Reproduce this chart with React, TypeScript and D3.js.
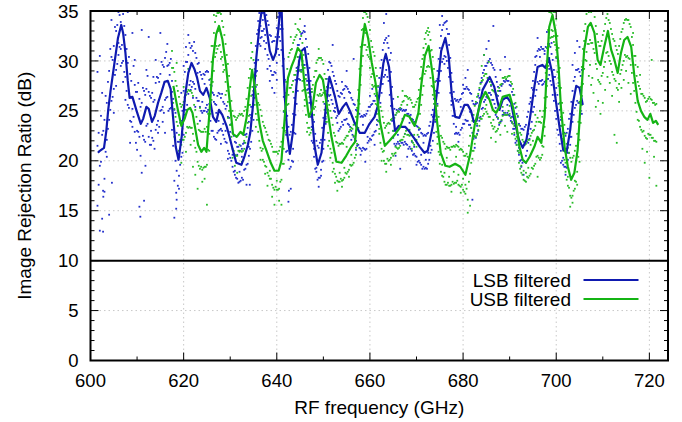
import React from "react";
import * as d3 from "d3";

// ---------- DATA ----------
const xTicksMajor = [600, 620, 640, 660, 680, 700, 720];
const xTicksMinor = [610, 630, 650, 670, 690, 710];
const yTicksMajor = [0, 5, 10, 15, 20, 25, 30, 35];
const xTickLabels = ["600", "620", "640", "660", "680", "700", "720"];
const yTickLabels = ["0", "5", "10", "15", "20", "25", "30", "35"];
const seriesNames = ["LSB filtered", "USB filtered"];
const thresholdDb = 10;

// smoothed (filtered) curves
const lsbFreq = [601.6,602.0,602.9,603.4,603.8,604.3,605.0,605.9,606.6,607.0,607.5,608.0,608.4,609.0,609.9,610.8,611.3,612.0,612.5,613.2,613.8,614.5,615.2,615.9,616.6,617.2,617.7,618.3,618.9,619.6,620.3,621.0,621.7,622.3,622.9,623.5,624.2,624.9,625.6,626.3,627.0,627.6,628.3,629.2,629.9,630.6,631.3,632.4,633.1,633.8,634.3,634.9,635.6,636.3,637.0,637.8,638.5,639.2,639.8,640.3,640.8,641.0,641.3,641.7,642.3,642.8,643.5,644.2,644.8,645.3,646.0,646.7,647.4,648.1,648.8,649.6,650.3,651.0,651.3,651.8,652.5,653.3,654.2,654.9,655.8,656.7,657.8,658.9,659.9,661.0,661.7,662.4,662.9,663.4,664.1,664.8,665.4,666.2,666.9,667.6,668.5,669.6,670.7,671.7,672.4,673.0,673.5,674.6,675.3,676.2,676.9,677.6,678.3,679.2,680.3,681.0,681.7,682.3,682.9,683.4,684.2,685.7,686.7,687.8,688.5,689.4,690.3,691.0,692.0,692.8,693.6,694.4,695.3,696.0,697.0,697.7,698.4,699.1,699.8,700.7,701.5,702.2,703.0,703.6,704.3,705.0,705.7];
const lsbVal = [20.8,21.0,21.3,23.0,25.1,27.0,29.3,32.3,33.6,32.8,30.8,28.0,26.3,26.4,25.0,23.7,24.2,25.4,25.2,23.9,24.5,25.8,26.8,27.9,28.0,27.2,24.5,21.4,20.1,22.5,26.5,28.8,29.8,29.2,28.3,27.0,26.6,27.3,26.3,24.4,23.9,25.1,24.6,23.5,22.3,21.0,19.8,19.6,20.5,21.6,22.8,25.6,30.3,33.6,35.8,33.3,31.0,30.1,30.8,33.0,35.5,35.8,31.0,26.5,22.5,20.7,23.0,27.5,30.0,31.0,31.3,29.0,25.5,21.5,19.6,20.8,24.3,27.5,28.4,27.6,26.4,24.7,25.4,25.8,24.9,23.8,22.8,22.8,23.7,24.4,25.5,28.0,29.8,30.7,29.4,25.3,23.0,23.5,23.4,23.4,22.9,22.2,21.4,20.8,21.0,22.3,23.5,27.7,31.0,32.3,30.5,26.5,24.4,24.3,25.6,25.6,25.0,23.9,24.0,25.3,27.1,28.4,27.4,25.1,26.1,26.4,25.8,24.1,22.1,21.3,22.1,24.4,27.4,29.4,29.6,29.3,30.3,28.9,26.4,23.4,21.1,20.8,23.1,25.8,27.5,27.3,25.6];

const usbFreq = [617.8,618.3,618.8,619.5,620.2,620.8,621.4,621.9,622.5,623.1,623.8,624.4,624.9,625.6,626.3,627.0,627.6,628.3,629.1,629.9,630.6,631.4,632.2,632.8,633.5,634.2,634.7,635.3,636.3,637.0,637.8,638.7,639.5,640.4,641.0,641.7,642.4,643.2,643.8,644.5,645.3,646.0,646.9,647.6,648.4,649.2,649.9,650.6,651.7,652.8,653.9,654.9,656.0,656.8,657.5,658.2,658.9,659.6,660.4,661.2,662.2,663.2,664.2,665.3,666.4,667.5,668.5,669.6,670.4,671.0,671.8,672.6,673.5,674.4,675.2,676.2,677.1,678.3,679.4,680.5,681.5,682.5,683.9,684.8,685.7,686.4,687.1,687.8,688.5,689.2,690.0,690.7,691.4,692.1,692.8,693.5,694.3,695.3,696.0,696.8,697.5,698.0,698.5,699.2,699.9,700.5,701.0,701.8,702.5,703.2,703.9,704.6,705.3,706.0,706.8,707.4,708.2,708.9,709.5,710.3,711.1,711.8,712.5,713.2,713.9,714.6,715.3,716.1,716.8,717.5,718.2,718.9,719.6,720.2,720.8,721.4,721.9];
const usbVal = [27.5,26.2,25.0,23.5,24.2,25.1,25.3,24.8,23.2,21.6,20.9,21.3,20.9,25.2,30.2,32.7,33.5,32.2,29.5,25.9,22.7,22.4,22.9,22.6,24.3,27.3,29.1,27.3,23.7,22.0,21.0,19.8,19.0,19.0,20.0,24.3,28.3,29.5,30.2,31.3,30.8,27.4,24.4,25.1,27.8,28.6,28.1,26.0,22.5,19.9,19.8,20.5,21.4,21.9,25.2,31.2,33.7,32.3,29.8,27.8,23.8,21.5,22.0,22.6,23.3,24.6,24.4,23.5,24.8,27.5,30.5,31.5,28.5,24.0,20.8,19.5,19.4,19.7,19.4,18.6,20.6,23.6,26.1,26.9,26.1,25.1,24.8,25.4,26.4,26.5,26.6,25.4,23.8,21.4,20.1,19.8,20.4,21.4,22.4,21.8,24.4,29.4,33.4,34.6,32.8,29.4,25.4,21.4,19.4,18.1,18.8,21.1,26.1,31.1,33.4,33.8,32.8,30.1,29.6,31.4,33.0,31.1,30.1,28.8,30.8,32.1,32.4,31.4,28.4,26.0,25.0,24.4,24.1,24.7,23.8,24.0,23.6];

// raw measurements: [frequency, values...]
const lsbRaw = [
[601.5,21.5,15.5,28.9],[602.0,13.0,19.5,30.5],[602.5,14.2,22.6,26.8],[603.0,18.2,24.1,16.9],[603.5,20.4,25.8,22.1],
[604.0,24.1,29.0,14.6],[604.5,26.0,30.4,34.1],[605.0,31.5,27.2,24.8],[605.5,33.0,29.1,27.5],[606.0,34.9,30.6,31.8],
[606.5,31.2,29.5,33.9],[607.0,34.7,30.0,27.9],[607.5,32.6,28.4,26.1],[608.0,34.9,25.6,29.8],[608.5,24.0,28.7,21.8],
[609.0,32.8,25.2,23.4],[609.5,27.6,22.9,30.1],[610.0,26.9,23.0,21.1],[610.5,15.4,26.2,22.4],[611.0,18.8,25.8,33.1],
[611.5,22.1,27.0,16.0],[612.0,29.1,23.5,27.2],[612.5,32.4,22.4,26.9],[613.0,21.6,26.3,23.0],[613.5,25.9,22.0,28.4],
[614.0,23.1,27.8,30.1],[614.5,24.0,28.3,22.8],[615.0,28.7,25.0,32.8],[615.5,29.6,25.4,23.9],[616.0,30.3,26.1,22.8],
[616.5,29.5,26.4,31.7],[617.0,29.8,25.2,28.6],[617.5,28.0,23.1,26.9],[618.0,18.0,25.1,14.3],[618.5,16.1,19.0,22.8],
[619.0,18.5,21.9,17.2],[619.5,20.4,24.0,26.8],[620.0,27.0,22.6,29.5],[620.5,29.9,25.1,31.4],[621.0,30.6,26.7,32.6],
[621.5,31.3,28.0,27.1],[622.0,27.9,31.0,26.3],[622.5,30.8,27.2,25.4],[623.0,26.0,29.7,28.8],[623.5,28.9,25.4,24.0],
[624.0,24.8,28.2,25.9],[624.5,28.6,25.0,27.7],[625.0,25.6,29.0,24.9],[625.5,24.5,28.1,25.7],[626.0,23.0,26.9,27.5],
[626.5,22.4,25.9,26.6],[627.0,25.6,22.1,24.8],[627.5,23.0,26.8,24.0],[628.0,26.3,23.2,21.7],[628.5,22.6,25.9,23.7],
[629.0,25.2,21.9,23.0],[629.5,21.0,24.4,20.2],[630.0,20.3,23.6,22.9],[630.5,19.4,22.8,20.6],[631.0,18.6,21.9,19.0],
[631.5,18.2,21.4,20.6],[632.0,18.9,21.0,17.9],[632.5,18.3,21.2,20.4],[633.0,19.1,21.8,22.6],[633.5,19.6,22.7,17.6],
[634.0,20.5,23.9,21.4],[634.5,21.9,25.4,24.3],[635.0,24.1,28.4,27.0],[635.5,27.4,31.5,28.9],[636.0,30.1,34.0,33.1],
[636.5,32.3,33.5,31.5],[637.0,34.1,33.0,34.8],[637.5,32.6,34.5,31.2],[638.0,30.6,34.0,29.2],[638.5,29.5,32.6,28.0],
[639.0,28.6,31.9,27.3],[639.5,28.9,32.0,26.8],[640.0,29.8,33.3,28.1],[640.5,32.4,34.8,30.6],[641.0,33.6,31.1,34.4],
[641.5,30.2,26.4,24.9],[642.0,22.6,26.8,20.9],[642.5,20.1,23.4,15.9],[643.0,19.4,22.9,17.2],[643.5,21.2,24.7,19.9],
[644.0,24.6,28.1,22.7],[644.5,27.0,30.4,31.6],[645.0,29.0,32.2,28.1],[645.5,29.6,32.8,30.0],[646.0,29.6,32.9,33.5],
[646.5,28.0,31.4,27.1],[647.0,25.8,29.3,24.6],[647.5,23.4,26.9,22.0],[648.0,20.4,23.9,21.2],[648.5,18.9,22.0,19.3],
[649.0,18.3,21.3,17.4],[649.5,19.1,22.1,18.5],[650.0,21.2,24.3,20.0],[650.5,23.7,27.0,24.2],[651.0,26.0,29.1,25.1],
[651.5,26.6,29.8,27.3],[652.0,25.7,28.9,31.6],[652.5,24.9,28.0,25.3],[653.0,23.8,27.0,24.5],[653.5,23.2,26.4,21.7],
[654.0,23.9,26.7,27.9],[654.5,24.1,27.2,26.3],[655.0,24.2,27.4,29.0],[655.5,23.6,26.9,24.8],[656.0,23.0,26.3,22.1],
[656.5,22.4,25.7,30.2],[657.0,22.0,25.1,21.1],[657.5,21.6,24.8,26.1],[658.0,21.2,24.4,20.6],[658.5,21.3,24.4,23.6],
[659.0,21.1,24.5,19.9],[659.5,21.8,25.0,22.4],[660.0,22.2,25.4,26.5],[660.5,22.5,25.7,27.2],[661.0,22.9,26.0,21.6],
[661.5,23.6,26.8,24.1],[662.0,25.0,28.3,23.9],[662.5,26.8,30.1,27.7],[663.0,28.4,31.8,33.8],[663.5,29.1,32.3,34.7],
[664.0,28.0,31.3,32.5],[664.5,25.5,28.9,30.8],[665.0,23.0,26.2,22.3],[665.5,21.5,24.6,20.5],[666.0,21.9,25.0,22.6],
[666.5,22.0,25.1,19.2],[667.0,21.8,25.0,24.2],[667.5,21.9,25.0,22.7],[668.0,21.6,24.7,20.4],[668.5,21.4,24.5,23.8],
[669.0,21.0,24.2,21.9],[669.5,20.7,23.9,21.4],[670.0,20.4,23.5,19.6],[670.5,20.0,23.1,22.4],[671.0,19.6,22.8,20.6],
[671.5,19.4,22.5,21.8],[672.0,19.3,22.5,20.1],[672.5,19.7,22.8,20.8],[673.0,20.8,23.9,21.5],[673.5,22.0,25.1,24.4],
[674.0,23.9,27.0,26.3],[674.5,25.7,29.0,28.2],[675.0,28.0,31.3,33.6],[675.5,29.9,33.1,34.5],[676.0,30.5,33.8,29.7],
[676.5,30.0,33.2,34.0],[677.0,28.4,31.6,32.7],[677.5,25.6,28.8,26.0],[678.0,23.7,26.9,24.5],[678.5,22.8,26.0,23.4],
[679.0,22.8,25.9,21.9],[679.5,23.1,26.2,25.4],[680.0,23.7,26.8,27.6],[680.5,24.1,27.2,28.3],[681.0,24.0,27.2,29.1],
[681.5,23.6,26.8,24.9],[682.0,22.8,26.0,16.1],[682.5,22.4,25.6,21.3],[683.0,22.7,25.8,23.5],[683.5,24.0,27.1,26.3],
[684.0,25.2,28.3,27.9],[684.5,25.9,29.1,30.6],[685.0,26.4,29.5,31.2],[685.5,26.8,30.0,32.0],[686.0,26.6,29.8,27.5],
[686.5,26.1,29.3,33.5],[687.0,25.3,28.4,24.6],[687.5,24.2,27.4,26.5],[688.0,23.9,27.0,29.1],[688.5,24.6,27.7,25.0],
[689.0,24.8,27.9,30.4],[689.5,24.8,28.0,25.6],[690.0,24.5,27.6,29.2],[690.5,23.8,26.9,24.4],[691.0,22.6,25.7,23.2],
[691.5,21.6,24.7,22.0],[692.0,20.6,23.7,21.3],[692.5,20.1,23.2,19.4],[693.0,20.0,23.1,18.6],[693.5,20.5,23.6,19.8],
[694.0,21.8,24.9,22.7],[694.5,23.2,26.3,25.9],[695.0,24.9,28.0,27.1],[695.5,26.5,29.6,30.4],[696.0,27.9,31.0,32.3],
[696.5,28.0,31.1,30.4],[697.0,28.1,31.2,27.6],[697.5,27.9,31.0,30.7],[698.0,28.2,31.3,32.9],[698.5,28.6,31.7,29.2],
[699.0,27.6,30.7,31.8],[699.5,26.0,29.1,28.4],[700.0,24.2,27.3,30.3],[700.5,22.6,25.7,27.8],[701.0,21.0,24.1,19.8],
[701.5,19.6,22.7,20.3],[702.0,19.4,22.5,18.6],[702.5,20.1,23.2,20.8],[703.0,21.6,24.7,22.4],[703.5,23.9,27.0,29.6],
[704.0,25.3,28.4,30.8],[704.5,26.0,29.1,32.0],[705.0,25.8,28.9,31.4],[705.5,24.7,27.8,29.1],
[602.7,12.9,17.0],[610.7,14.4],[618.4,15.2,16.8],[604.6,17.8],[611.8,19.5],[634.2,17.6],[642.6,17.0]
];

const lsbRaw2 = [
[601.75,22.8,17.6],[602.25,19.9,24.5],[602.75,23.0,16.4],[603.25,20.9,26.5],[603.75,23.2,27.9],[604.25,25.1,31.2],
[604.75,30.1,26.4],[605.25,28.6,33.4],[605.75,33.6,29.7],[606.25,31.4,34.6],[606.75,31.6,29.8],[607.25,33.5,28.9],
[607.75,31.2,27.0],[608.25,25.3,30.4],[608.75,28.0,23.9],[609.25,24.4,29.5],[609.75,26.9,21.8],[610.25,22.9,27.8],
[610.75,25.4,20.5],[611.25,22.5,27.3],[611.75,26.6,21.9],[612.25,23.7,28.5],[612.75,26.5,21.6],[613.25,22.3,26.8],
[613.75,26.1,21.2],[614.25,23.6,28.4],[614.75,27.9,23.4],[615.25,25.1,29.9],[615.75,29.4,24.8],[616.25,26.3,30.9],
[616.75,29.6,25.0],[617.25,25.3,30.2],[617.75,26.2,21.5],[618.25,20.0,24.8],[618.75,21.9,17.5],[619.25,19.6,23.8],
[619.75,25.0,20.8],[620.25,24.6,28.9],[620.75,29.9,25.6],[621.25,27.6,31.8],[621.75,31.5,27.4],[622.25,27.7,31.9],
[622.75,30.3,26.3],[623.25,26.0,29.8],[623.75,28.6,25.0],[624.25,25.0,28.7],[624.75,28.9,25.3],[625.25,25.1,28.9],
[625.75,27.6,24.0],[626.25,23.0,26.8],[626.75,25.7,22.2],[627.25,22.8,26.5],[627.75,26.7,23.1],[628.25,23.0,26.7],
[628.75,25.7,22.2],[629.25,21.8,25.5],[629.75,24.3,20.7],[630.25,20.0,23.7],[630.75,22.5,18.9],[631.25,18.3,21.8],
[631.75,21.4,17.8],[632.25,18.0,21.5],[632.75,21.7,18.1],[633.25,19.2,22.6],[633.75,23.3,19.7],[634.25,21.2,24.6],
[634.75,26.6,23.0],[635.25,26.3,29.8],[635.75,32.7,29.0],[636.25,31.7,34.8],[636.75,33.0,32.4],[637.25,33.2,32.0],
[637.75,31.8,34.6],[638.25,30.2,33.6],[638.75,32.5,29.0],[639.25,28.6,32.0],[639.75,32.4,28.8],[640.25,31.2,34.4],
[640.75,33.2,32.0],[641.25,33.2,29.5],[641.75,24.6,28.1],[642.25,24.5,21.0],[642.75,19.2,22.6],[643.25,23.6,20.0],
[643.75,22.8,26.3],[644.25,29.3,25.7],[644.75,28.2,31.6],[645.25,32.7,29.1],[645.75,29.6,33.0],[646.25,32.2,28.6],
[646.75,27.2,30.7],[647.25,28.0,24.4],[647.75,21.8,25.3],[648.25,22.7,19.2],[648.75,18.1,21.5],[649.25,21.8,18.3],
[649.75,19.9,23.3],[650.25,25.7,22.1],[650.75,24.8,28.2],[651.25,29.9,26.5],[651.75,26.1,29.5],[652.25,28.5,25.0],
[652.75,24.3,27.7],[653.25,26.5,23.0],[653.75,23.4,26.8],[654.25,27.1,23.6],[654.75,24.1,27.5],[655.25,27.2,23.7],
[655.75,23.4,26.8],[656.25,26.1,22.6],[656.75,22.2,25.6],[657.25,25.0,21.5],[657.75,21.3,24.7],[658.25,24.5,21.0],
[658.75,21.2,24.6],[659.25,24.7,21.2],[659.75,22.0,25.4],[660.25,25.6,22.1],[660.75,22.6,26.0],[661.25,26.5,23.0],
[661.75,24.0,27.4],[662.25,29.3,25.8],[662.75,27.7,31.1],[663.25,32.1,28.6],[663.75,28.4,31.8],[664.25,30.1,26.6],
[664.75,24.0,27.4],[665.25,25.2,21.7],[665.75,21.7,25.1],[666.25,25.2,21.7],[666.75,21.8,25.2],[667.25,25.1,21.6],
[667.75,21.7,25.1],[668.25,24.7,21.2],[668.75,21.2,24.6],[669.25,24.1,20.6],[669.75,20.5,23.9],[670.25,23.4,19.9],
[670.75,19.8,23.2],[671.25,22.7,19.2],[671.75,19.2,22.6],[672.25,22.7,19.2],[672.75,20.1,23.5],[673.25,24.6,21.1],
[673.75,22.8,26.2],[674.25,28.0,24.5],[674.75,26.8,30.2],[675.25,32.5,29.0],[675.75,30.2,33.6],[676.25,33.9,30.4],
[676.75,29.3,32.7],[677.25,30.3,26.8],[677.75,24.5,27.9],[678.25,26.2,22.7],[678.75,22.7,26.1],[679.25,26.1,22.6],
[679.75,23.3,26.7],[680.25,27.2,23.7],[680.75,24.0,27.4],[681.25,27.1,23.6],[681.75,23.3,26.7],[682.25,25.7,22.2],
[682.75,22.3,25.7],[683.25,26.5,23.0],[683.75,24.4,27.8],[684.25,28.8,25.3],[684.75,26.1,29.5],[685.25,29.8,26.3],
[685.75,26.8,30.2],[686.25,29.6,26.1],[686.75,25.7,29.1],[687.25,27.9,24.4],[687.75,23.6,27.0],[688.25,27.5,24.0],
[688.75,24.6,28.0],[689.25,28.1,24.6],[689.75,24.6,28.0],[690.25,27.5,24.0],[690.75,23.2,26.6],[691.25,25.3,21.8],
[691.75,21.0,24.4],[692.25,23.5,20.0],[692.75,19.8,23.2],[693.25,23.4,19.9],[693.75,21.0,24.4],[694.25,25.7,22.2],
[694.75,23.9,27.3],[695.25,28.9,25.4],[695.75,27.1,30.5],[696.25,31.2,27.7],[696.75,28.0,31.4],[697.25,31.2,27.7],
[697.75,28.0,31.4],[698.25,31.7,28.2],[698.75,28.0,31.4],[699.25,30.1,26.6],[699.75,25.0,28.4],[700.25,26.6,23.1],
[700.75,21.7,25.1],[701.25,23.5,20.0],[701.75,19.4,22.8],[702.25,22.8,19.3],[702.75,20.8,24.2],[703.25,25.9,22.4],
[703.75,24.6,28.0],[704.25,29.1,25.6],[704.75,25.8,29.2],[705.25,28.5,25.0]
];

const usbRaw = [
[617.5,29.3,25.8,31.0],[618.0,25.2,28.9,22.4],[618.5,23.9,27.5,29.8],[619.0,22.6,26.4,21.0],[619.5,21.6,25.4,19.8],
[620.0,22.1,25.9,27.4],[620.5,22.8,26.6,20.9],[621.0,23.3,27.1,29.2],[621.5,23.3,27.0,21.6],[622.0,22.7,26.5,19.4],
[622.5,21.3,25.1,18.6],[623.0,19.9,23.7,17.2],[623.5,19.2,23.0,25.3],[624.0,19.1,22.9,17.9],[624.5,19.4,23.2,18.2],
[625.0,19.6,23.4,15.6],[625.5,22.7,26.5,21.0],[626.0,26.1,29.9,31.5],[626.5,29.0,32.8,34.6],[627.0,30.8,34.5,31.5],
[627.5,31.5,34.8,33.0],[628.0,30.9,34.7,30.2],[628.5,29.6,33.4,28.9],[629.0,27.9,31.7,26.6],[629.5,25.9,29.7,24.3],
[630.0,23.6,27.4,22.1],[630.5,21.2,25.0,20.3],[631.0,20.6,24.4,19.5],[631.5,20.5,24.3,18.8],[632.0,20.9,24.7,21.6],
[632.5,20.9,24.7,19.9],[633.0,21.2,25.0,22.0],[633.5,22.4,26.2,25.1],[634.0,24.5,28.3,25.6],[634.5,26.5,30.3,31.8],
[635.0,26.3,30.1,27.0],[635.5,24.7,28.5,23.4],[636.0,22.9,26.7,25.8],[636.5,21.3,25.1,20.1],[637.0,20.1,23.9,21.2],
[637.5,19.5,23.3,18.7],[638.0,18.8,22.6,17.5],[638.5,18.2,22.0,19.0],[639.0,17.6,21.4,16.4],[639.5,17.1,20.9,15.6],
[640.0,17.1,20.9,18.0],[640.5,17.2,21.0,16.0],[641.0,18.1,21.9,15.6],[641.5,21.2,25.0,19.7],[642.0,24.1,27.9,22.8],
[642.5,26.6,30.4,25.7],[643.0,27.3,31.1,32.4],[643.5,28.0,31.8,26.9],[644.0,28.6,32.4,33.7],[644.5,29.4,33.2,30.4],
[645.0,29.1,32.9,34.2],[645.5,28.0,31.8,27.0],[646.0,25.5,29.3,26.1],[646.5,23.8,27.6,22.9],[647.0,22.6,26.4,23.3],
[647.5,23.1,26.9,27.2],[648.0,24.6,28.4,25.2],[648.5,26.0,29.8,29.0],[649.0,26.5,30.3,31.2],[649.5,26.5,30.3,27.1],
[650.0,25.9,29.7,26.8],[650.5,24.4,28.2,23.9],[651.0,22.8,26.6,21.5],[651.5,21.2,25.0,20.3],[652.0,19.8,23.6,18.9],
[652.5,18.7,22.5,17.8],[653.0,18.0,21.8,17.0],[653.5,17.9,21.7,18.8],[654.0,18.0,21.8,17.4],[654.5,18.3,22.1,19.3],
[655.0,18.7,22.5,21.4],[655.5,19.1,22.9,18.4],[656.0,19.5,23.3,20.6],[656.5,19.8,23.6,22.5],[657.0,20.6,24.4,21.3],
[657.5,23.3,27.1,26.0],[658.0,27.6,31.4,28.6],[658.5,30.5,34.3,33.2],[659.0,31.6,34.9,32.8],[659.5,30.6,34.4,31.4],
[660.0,29.3,33.1,30.2],[660.5,27.6,31.4,28.7],[661.0,26.7,30.5,27.5],[661.5,24.7,28.5,25.6],[662.0,22.7,26.5,23.2],
[662.5,21.2,25.0,20.0],[663.0,20.0,23.8,21.0],[663.5,19.7,23.5,18.9],[664.0,20.0,23.8,22.8],[664.5,20.3,24.1,19.6],
[665.0,20.5,24.3,23.0],[665.5,20.8,24.6,21.4],[666.0,21.2,25.0,26.4],[666.5,21.5,25.3,22.0],[667.0,22.1,25.9,27.0],
[667.5,22.7,26.5,23.4],[668.0,22.6,26.4,25.6],[668.5,22.5,26.3,23.1],[669.0,22.0,25.8,21.2],[669.5,21.6,25.4,22.6],
[670.0,22.1,25.9,21.4],[670.5,23.3,27.1,26.3],[671.0,25.6,29.4,28.3],[671.5,27.5,31.3,30.6],[672.0,29.0,32.8,31.7],
[672.5,29.5,33.3,32.6],[673.0,28.3,32.1,31.0],[673.5,26.6,30.4,27.4],[674.0,24.1,27.9,25.1],[674.5,21.7,25.5,22.4],
[675.0,19.7,23.5,20.6],[675.5,18.5,22.3,19.6],[676.0,17.9,21.7,18.8],[676.5,17.6,21.4,20.3],[677.0,17.5,21.3,18.4],
[677.5,17.6,21.4,16.9],[678.0,17.7,21.5,18.9],[678.5,17.8,21.6,20.4],[679.0,17.6,21.4,18.6],[679.5,17.4,21.2,16.8],
[680.0,17.1,20.9,18.2],[680.5,16.7,20.5,17.6],[681.0,14.8,16.1,20.4],[681.5,18.7,22.5,15.5],[682.0,20.2,24.0,21.0],
[682.5,21.7,25.5,22.5],[683.0,22.6,26.4,23.7],[683.5,23.5,27.3,24.3],[684.0,24.2,28.0,29.5],[684.5,24.7,28.5,30.6],
[685.0,24.9,28.7,25.6],[685.5,24.4,28.2,29.9],[686.0,23.8,27.6,22.3],[686.5,23.2,27.0,24.1],[687.0,22.9,26.7,21.9],
[687.5,23.2,27.0,24.3],[688.0,23.8,27.6,22.6],[688.5,24.5,28.3,25.4],[689.0,24.6,28.4,23.5],[689.5,24.6,28.4,22.9],
[690.0,24.7,28.5,25.5],[690.5,23.9,27.7,22.7],[691.0,22.8,26.6,23.5],[691.5,21.6,25.4,22.4],[692.0,19.8,23.6,20.8],
[692.5,18.8,22.6,19.5],[693.0,18.1,21.9,19.0],[693.5,17.9,21.7,18.8],[694.0,18.3,22.1,19.3],[694.5,18.7,22.5,21.6],
[695.0,19.2,23.0,22.0],[695.5,19.7,23.5,24.6],[696.0,20.5,24.3,18.4],[696.5,20.1,23.9,25.0],[697.0,20.6,24.4,21.5],
[697.5,22.5,26.3,23.4],[698.0,27.5,31.3,26.4],[698.5,31.5,34.9,30.3],[699.0,32.4,34.8,33.1],[699.5,31.9,34.9,32.5],
[700.0,30.4,34.2,31.1],[700.5,27.5,31.3,28.3],[701.0,23.5,27.3,24.4],[701.5,21.0,24.8,22.0],[702.0,18.9,22.7,19.8],
[702.5,17.5,21.3,18.4],[703.0,16.5,20.3,15.4],[703.5,16.5,20.3,15.8],[704.0,17.2,21.0,18.0],[704.5,18.9,22.7,17.6],
[705.0,22.1,25.9,19.9],[705.5,25.6,29.4,26.5],[706.0,29.2,33.0,32.0],[706.5,30.9,34.7,30.0],[707.0,31.7,34.9,28.5],
[707.5,31.8,34.9,27.6],[708.0,31.2,35.0,26.8],[708.5,29.7,33.5,25.4],[709.0,28.1,31.9,26.0],[709.5,27.7,31.5,24.7],
[710.0,28.8,32.6,25.8],[710.5,29.9,33.7,27.1],[711.0,30.9,34.7,28.4],[711.5,30.0,33.8,27.8],[712.0,28.9,32.7,26.5],
[712.5,28.2,32.0,22.6],[713.0,27.3,31.1,21.8],[713.5,27.7,31.5,25.9],[714.0,29.1,32.9,27.3],[714.5,30.0,33.8,28.1],
[715.0,30.4,34.2,29.0],[715.5,30.3,34.1,27.8],[716.0,29.6,33.4,26.7],[716.5,27.8,31.6,32.8],[717.0,25.8,29.6,30.5],
[717.5,24.1,27.9,29.4],[718.0,23.4,27.2,28.6],[718.5,22.9,26.7,21.2],[719.0,22.5,26.3,19.8],[719.5,22.2,26.0,20.9],
[720.0,22.6,26.4,18.3],[720.5,22.3,26.1,30.1],[721.0,22.0,25.8,20.4],[721.5,21.9,25.7,17.5]
];

const usbRaw2 = [
[617.75,25.8,29.3],[618.25,28.0,24.4],[618.75,23.5,27.0],[619.25,25.7,22.1],[619.75,22.1,25.6],[620.25,26.0,22.4],
[620.75,23.4,26.9],[621.25,27.0,23.4],[621.75,23.3,26.8],[622.25,25.6,22.0],[622.75,20.9,24.4],[623.25,23.1,19.5],
[623.75,19.4,22.9],[624.25,22.9,19.3],[624.75,19.4,22.9],[625.25,24.7,21.1],[625.75,24.7,28.2],[626.25,31.5,27.9],
[626.75,30.4,33.9],[627.25,34.8,31.2],[627.75,31.6,34.9],[628.25,34.0,30.4],[628.75,29.1,32.6],[629.25,30.6,27.0],
[629.75,25.0,28.5],[630.25,26.0,22.4],[630.75,21.0,24.5],[631.25,24.1,20.5],[631.75,21.0,24.5],[632.25,24.6,21.0],
[632.75,21.0,24.5],[633.25,25.4,21.8],[633.75,23.8,27.3],[634.25,29.2,25.6],[634.75,27.4,30.9],[635.25,29.2,25.6],
[635.75,24.1,27.6],[636.25,25.6,22.0],[636.75,21.0,24.5],[637.25,23.5,19.9],[637.75,19.4,22.9],[638.25,22.1,18.5],
[638.75,18.2,21.7],[639.25,20.9,17.3],[639.75,17.4,20.9],[640.25,20.7,17.1],[640.75,17.9,21.4],[641.25,23.3,19.7],
[641.75,23.0,26.5],[642.25,29.2,25.6],[642.75,27.3,30.8],[643.25,31.2,27.6],[643.75,28.6,32.1],[644.25,32.6,29.0],
[644.75,29.6,33.1],[645.25,32.5,28.9],[645.75,27.1,30.6],[646.25,28.2,24.6],[646.75,23.3,26.8],[647.25,26.4,22.8],
[647.75,24.1,27.6],[648.25,29.0,25.4],[648.75,26.6,30.1],[649.25,30.3,26.7],[649.75,26.6,30.1],[650.25,28.7,25.1],
[650.75,23.9,27.4],[651.25,25.6,22.0],[651.75,20.8,24.3],[652.25,22.8,19.2],[652.75,18.4,21.9],[653.25,21.5,17.9],
[653.75,18.2,21.7],[654.25,21.7,18.1],[654.75,18.8,22.3],[655.25,22.5,18.9],[655.75,19.6,23.1],[656.25,23.2,19.6],
[656.75,20.3,23.8],[657.25,25.3,21.7],[657.75,25.7,29.2],[658.25,33.1,29.5],[658.75,31.6,34.9],[659.25,34.7,31.1],
[659.75,30.4,33.9],[660.25,32.0,28.4],[660.75,27.4,30.9],[661.25,29.3,25.7],[661.75,24.0,27.5],[662.25,25.4,21.8],
[662.75,20.9,24.4],[663.25,23.3,19.7],[663.75,20.2,23.7],[664.25,23.7,20.1],[664.75,20.7,24.2],[665.25,24.3,20.7],
[665.75,21.3,24.8],[666.25,24.9,21.3],[666.75,22.1,25.6],[667.25,26.0,22.4],[667.75,23.0,26.5],[668.25,26.2,22.6],
[668.75,22.6,26.1],[669.25,25.4,21.8],[669.75,22.1,25.6],[670.25,26.2,22.6],[670.75,24.7,28.2],[671.25,30.2,26.6],
[671.75,28.7,32.2],[672.25,33.0,29.4],[672.75,29.4,32.9],[673.25,31.1,27.5],[673.75,25.7,29.2],[674.25,26.5,22.9],
[674.75,20.9,24.4],[675.25,22.5,18.9],[675.75,18.4,21.9],[676.25,21.2,17.6],[676.75,17.8,21.3],[677.25,21.1,17.5],
[677.75,17.9,21.4],[678.25,21.4,17.8],[678.75,18.0,21.5],[679.25,21.1,17.5],[679.75,17.6,21.1],[680.25,20.5,16.9],
[680.75,17.2,20.7],[681.25,21.5,17.9],[681.75,19.8,23.3],[682.25,24.6,21.0],[682.75,22.4,25.9],[683.25,26.7,23.1],
[683.75,24.2,27.7],[684.25,28.1,24.5],[684.75,25.2,28.7],[685.25,28.3,24.7],[685.75,24.4,27.9],[686.25,27.1,23.5],
[686.75,23.4,26.9],[687.25,26.6,23.0],[687.75,23.8,27.3],[688.25,27.7,24.1],[688.75,24.8,28.3],[689.25,28.2,24.6],
[689.75,25.0,28.5],[690.25,27.9,24.3],[690.75,23.7,27.2],[691.25,25.8,22.2],[691.75,21.0,24.5],[692.25,22.8,19.2],
[692.75,18.6,22.1],[693.25,21.6,18.0],[693.75,18.4,21.9],[694.25,22.1,18.5],[694.75,19.3,22.8],[695.25,23.1,19.5],
[695.75,20.4,23.9],[696.25,23.9,20.3],[696.75,20.3,23.8],[697.25,25.0,21.4],[697.75,25.3,28.8],[698.25,33.1,29.5],
[698.75,32.3,34.9],[699.25,33.0,32.4],[699.75,31.6,34.9],[700.25,32.5,28.9],[700.75,25.8,29.3],[701.25,25.8,22.2],
[701.75,20.1,23.6],[702.25,21.7,18.1],[702.75,17.3,20.8],[703.25,19.9,16.3],[703.75,17.0,20.5],[704.25,21.5,17.9],
[704.75,20.4,23.9],[705.25,27.4,23.8],[705.75,27.7,31.2],[706.25,33.7,30.1],[706.75,31.7,35.0],[707.25,32.1,29.6],
[707.75,31.8,28.3],[708.25,34.4,30.8],[708.75,29.2,32.7],[709.25,31.5,27.9],[709.75,28.5,32.0],[710.25,33.0,29.4],
[710.75,30.8,34.3],[711.25,34.1,30.5],[711.75,29.7,33.2],[712.25,32.2,28.6],[712.75,28.0,31.5],[713.25,30.7,27.1],
[713.75,28.7,32.2],[714.25,33.2,29.6],[714.75,30.6,34.1],[715.25,34.1,30.5],[715.75,30.2,33.7],[716.25,32.4,28.8],
[716.75,27.0,30.5],[717.25,28.5,24.9],[717.75,24.0,27.5],[718.25,26.7,23.1],[718.75,23.0,26.5],[719.25,25.9,22.3],
[719.75,22.7,26.2],[720.25,26.2,22.6],[720.75,22.3,25.8],[721.25,25.6,22.0]
];

// ---------- STYLE ----------
const W = 682;
const H = 422;
const plotLeft = 90.5;
const plotRight = 668;
const plotTop = 11;
const plotBottom = 360.5;
const blueLine = "#0f1ab0";
const blueDot = "#2430cc";
const greenLine = "#14b414";
const greenDot = "#28bc28";
const FONT = "'Liberation Sans', Arial, Helvetica, sans-serif";
const FS_TICK = 18.5;
const FS_TITLE = 19;

export default function App() {
  const x = d3.scaleLinear().domain([600, 724]).range([plotLeft, plotRight]);
  const y = d3.scaleLinear().domain([0, 35]).range([plotBottom, plotTop]);

  const mkPath = (fs: number[], vs: number[]) =>
    d3
      .line<number>()
      .x((_, i) => x(fs[i]))
      .y((_, i) => y(vs[i]))(fs) || "";

  const lsbPath = mkPath(lsbFreq, lsbVal);
  const usbPath = mkPath(usbFreq, usbVal);

  const dots = (rows: number[][], color: string, key: string) => {
    const out: React.ReactElement[] = [];
    rows.forEach((r, ri) => {
      const f = r[0];
      for (let k = 1; k < r.length; k++) {
        out.push(
          <rect
            key={`${key}-${ri}-${k}`}
            x={x(f) - 0.9}
            y={y(r[k]) - 0.9}
            width={1.8}
            height={1.8}
            fill={color}
          />
        );
      }
    });
    return out;
  };

  const yMinor = d3.range(0, 36).filter((v) => v % 5 !== 0);
  const gridStyle = { stroke: "#c8c8c8", strokeWidth: 1, strokeDasharray: "1.5,3" };
  const majorLen = 8;
  const minorLen = 4;

  return (
    <svg
      width={W}
      height={H}
      style={{ position: "fixed", left: 0, top: 0, background: "#fff" }}
      fontFamily={FONT}
    >
      <rect x={0} y={0} width={W} height={H} fill="#fff" />
      <defs>
        <clipPath id="plotclip">
          <rect x={plotLeft} y={plotTop} width={plotRight - plotLeft} height={plotBottom - plotTop} />
        </clipPath>
      </defs>

      {/* grid */}
      {xTicksMajor
        .filter((t) => t > 600)
        .map((t) => (
          <line key={`gx${t}`} x1={x(t)} x2={x(t)} y1={plotTop} y2={plotBottom} {...gridStyle} />
        ))}
      {yTicksMajor
        .filter((t) => t > 0 && t < 35 && t !== thresholdDb)
        .map((t) => (
          <line key={`gy${t}`} x1={plotLeft} x2={plotRight} y1={y(t)} y2={y(t)} {...gridStyle} />
        ))}

      {/* data */}
      <g clipPath="url(#plotclip)">
        {dots(lsbRaw, blueDot, "b")}
        {dots(lsbRaw2, blueDot, "b2")}
        {dots(usbRaw, greenDot, "g")}
        {dots(usbRaw2, greenDot, "g2")}
        <path d={lsbPath} fill="none" stroke={blueLine} strokeWidth={2.2} strokeLinejoin="round" />
        <path d={usbPath} fill="none" stroke={greenLine} strokeWidth={2.2} strokeLinejoin="round" />
      </g>

      {/* threshold line */}
      <line x1={plotLeft} x2={plotRight} y1={y(thresholdDb)} y2={y(thresholdDb)} stroke="#000" strokeWidth={2} />

      {/* ticks */}
      {xTicksMajor.map((t) => (
        <g key={`xt${t}`}>
          <line x1={x(t)} x2={x(t)} y1={plotBottom} y2={plotBottom - majorLen} stroke="#000" strokeWidth={1} />
          <line x1={x(t)} x2={x(t)} y1={plotTop} y2={plotTop + majorLen} stroke="#000" strokeWidth={1} />
        </g>
      ))}
      {xTicksMinor.map((t) => (
        <g key={`xm${t}`}>
          <line x1={x(t)} x2={x(t)} y1={plotBottom} y2={plotBottom - minorLen} stroke="#000" strokeWidth={1} />
          <line x1={x(t)} x2={x(t)} y1={plotTop} y2={plotTop + minorLen} stroke="#000" strokeWidth={1} />
        </g>
      ))}
      {yTicksMajor.map((t) => (
        <g key={`yt${t}`}>
          <line x1={plotLeft} x2={plotLeft + majorLen} y1={y(t)} y2={y(t)} stroke="#000" strokeWidth={1} />
          <line x1={plotRight} x2={plotRight - majorLen} y1={y(t)} y2={y(t)} stroke="#000" strokeWidth={1} />
        </g>
      ))}
      {yMinor.map((t) => (
        <g key={`ym${t}`}>
          <line x1={plotLeft} x2={plotLeft + minorLen} y1={y(t)} y2={y(t)} stroke="#000" strokeWidth={1} />
          <line x1={plotRight} x2={plotRight - minorLen} y1={y(t)} y2={y(t)} stroke="#000" strokeWidth={1} />
        </g>
      ))}

      {/* border */}
      <rect
        x={plotLeft}
        y={plotTop}
        width={plotRight - plotLeft}
        height={plotBottom - plotTop}
        fill="none"
        stroke="#000"
        strokeWidth={2}
      />

      {/* tick labels */}
      {xTicksMajor.map((t, i) => (
        <text key={`xl${t}`} x={x(t)} y={386.5} textAnchor="middle" fontSize={FS_TICK} fill="#000">
          {xTickLabels[i]}
        </text>
      ))}
      {yTicksMajor.map((t, i) => (
        <text key={`yl${t}`} x={78.5} y={y(t) + 6.6} textAnchor="end" fontSize={FS_TICK} fill="#000">
          {yTickLabels[i]}
        </text>
      ))}

      {/* axis titles */}
      <text x={(plotLeft + plotRight) / 2} y={413.5} textAnchor="middle" fontSize={FS_TITLE} fill="#000">
        RF frequency (GHz)
      </text>
      <text
        transform={`translate(30.5,${(plotTop + plotBottom) / 2}) rotate(-90)`}
        textAnchor="middle"
        fontSize={FS_TITLE}
        fill="#000"
      >
        Image Rejection Ratio (dB)
      </text>

      {/* legend */}
      <text x={571} y={286.5} textAnchor="end" fontSize={FS_TITLE} fill="#000">
        {seriesNames[0]}
      </text>
      <line x1={583.5} x2={638.5} y1={280} y2={280} stroke={blueLine} strokeWidth={2.2} />
      <text x={571} y={305.5} textAnchor="end" fontSize={FS_TITLE} fill="#000">
        {seriesNames[1]}
      </text>
      <line x1={583.5} x2={638.5} y1={299} y2={299} stroke={greenLine} strokeWidth={2.2} />
    </svg>
  );
}
